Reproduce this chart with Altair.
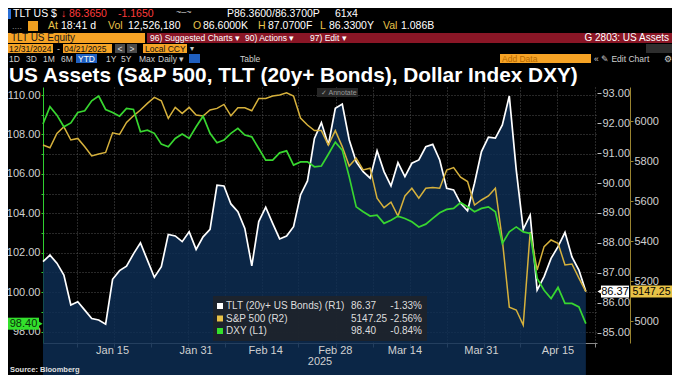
import altair as alt
import pandas as pd

# ---------------- data ----------------
day_idx = list(range(79))  # trading days 12/31/2024 .. 04/21/2025
tlt = [87.37, 87.59, 87.32, 86.92, 85.92, 86.03, 85.75, 85.47, 85.42, 85.28,
       86.78, 87.07, 87.22, 87.63, 88.00, 87.42, 86.85, 87.20, 88.28, 88.23,
       88.04, 88.37, 87.78, 88.20, 88.45, 89.93, 89.90, 89.30, 89.04, 88.48,
       87.23, 88.71, 89.19, 88.65, 88.13, 88.23, 88.54, 89.60, 90.07, 91.49,
       92.02, 91.27, 92.50, 92.64, 91.44, 90.71, 90.38, 90.16, 91.08, 90.38,
       89.90, 90.68, 90.21, 90.66, 90.77, 91.21, 91.29, 90.77, 89.82, 89.77,
       89.32, 89.07, 89.99, 91.05, 91.53, 91.50, 91.94, 92.91, 90.43, 88.45,
       88.93, 86.42, 86.87, 87.48, 87.87, 88.35, 87.53, 87.09, 86.37]
spx = [5880, 5866, 5938, 5971, 5905, 5913, 5871, 5825, 5835, 5843,
       5941, 5933, 5993, 6026, 6055, 6088, 6118, 6101, 6013, 6068,
       6038, 6068, 6030, 6025, 6055, 6063, 6083, 6026, 6066, 6066,
       6051, 6113, 6113, 6125, 6130, 6141, 6125, 6015, 5980, 5952,
       5952, 5880, 5952, 5872, 5775, 5814, 5755, 5764, 5614, 5567,
       5594, 5525, 5625, 5664, 5614, 5664, 5667, 5664, 5755, 5767,
       5719, 5697, 5580, 5605, 5625, 5664, 5405, 5069, 5055, 4980,
       5445, 5255, 5372, 5405, 5389, 5280, 5285, 5214, 5147.25]
dxy = [108.53, 109.41, 108.98, 108.39, 108.59, 109.12, 109.20, 109.71, 109.95, 109.27,
       109.12, 108.93, 109.32, 109.27, 108.14, 108.22, 108.06, 107.51, 107.38, 107.80,
       108.02, 107.80, 108.39, 108.93, 108.06, 107.58, 107.72, 108.06, 108.31, 107.97,
       107.88, 107.29, 106.70, 106.70, 107.07, 107.17, 106.45, 106.61, 106.61, 106.36,
       106.40, 107.00, 107.61, 107.21, 105.85, 104.33, 104.08, 103.86, 103.91, 103.49,
       103.65, 103.86, 103.74, 103.57, 103.31, 103.45, 103.74, 104.03, 104.20, 104.25,
       104.55, 104.33, 104.08, 104.25, 104.33, 104.08, 102.47, 103.06, 103.31, 103.06,
       102.98, 100.70, 100.10, 99.68, 100.24, 99.43, 99.43, 99.25, 98.40]

tick_idx = [10, 22, 32, 42, 52, 63, 74]
tick_lbl = ["Jan 15", "Jan 31", "Feb 14", "Feb 28", "Mar 14", "Mar 31", "Apr 15"]

leg_names = ["TLT (20y+ US Bonds) (R1)", "S&P 500 (R2)", "DXY (L1)"]
leg_pct = ["-1.33%", "-2.56%", "-0.84%"]

# ---------------- styling ----------------
FONT = "Liberation Sans, Arial, sans-serif"
C_TLT = "#ffffff"
C_SPX = "#d6b13c"
C_SPX_TAG = "#e8c247"
C_DXY = "#38d630"
C_DXY_TAG = "#33e02c"
AREA = "#0e2e56"
ORANGE = "#f6a325"
YEL = "#e8c34a"
LBL = "#d0d0d0"

W, H = 554, 256
OX, OY = 43, 87  # page position of the plot area

df = pd.DataFrame({"idx": day_idx, "tlt": tlt, "spx": spx, "dxy": dxy})
last = df.iloc[[-1]].reset_index(drop=True)
ticks_df = pd.DataFrame({"idx": tick_idx, "lbl": tick_lbl})
one = pd.DataFrame({"a": [0]})

grid_x = [4.85, 10.2, 15.5, 20.8, 26.1, 31.4, 36.7, 42.1, 47.4, 52.7, 58.0, 63.3, 68.6, 73.9, 79.3]
x_axis = alt.Axis(values=grid_x, labels=False, grid=True, gridColor="#505050", gridDash=[1, 2],
                  ticks=True, tickColor="#888888", tickSize=4, domainColor="#8a8a8a", title=None)
xscale = alt.Scale(domain=[0, 79.6], nice=False, zero=False)
x_enc = alt.X("idx:Q", scale=xscale, axis=x_axis)

tlt_scale = alt.Scale(domain=[84.65, 93.21], nice=False, zero=False)
spx_scale = alt.Scale(domain=[4890, 6170], nice=False, zero=False)
dxy_scale = alt.Scale(domain=[97.42, 110.41], nice=False, zero=False)

r1_axis = alt.Axis(orient="right", values=list(range(85, 94)), format=".2f", grid=False, domain=False,
                   ticks=True, tickColor="#bbbbbb", tickSize=4, labelColor=LBL, labelFont=FONT,
                   labelFontSize=11, labelPadding=1, title=None)
r2_axis = alt.Axis(orient="right", offset=33, values=list(range(5000, 6001, 200)), format="d", grid=False,
                   domainColor="#9a8430", tickColor="#9a8430", tickSize=3, labelColor=LBL,
                   labelFont=FONT, labelFontSize=11, labelPadding=1, title=None)
l1_axis = alt.Axis(orient="left", values=list(range(98, 111)),
                   labelExpr="datum.value % 2 == 0 ? format(datum.value, '.2f') : ''",
                   grid=True, gridColor="#505050", gridDash=[1, 2], domainColor="#2fcf2f",
                   tickColor="#2fcf2f", tickSize=2, labelColor=LBL, labelFont=FONT,
                   labelFontSize=11, labelPadding=1, title=None)

y_tlt = alt.Y("tlt:Q", scale=tlt_scale, axis=r1_axis)
y_spx = alt.Y("spx:Q", scale=spx_scale, axis=r2_axis)
y_dxy = alt.Y("dxy:Q", scale=dxy_scale, axis=l1_axis)


def T(s, x, y, color="#ffffff", size=10.5, weight="normal", align="left", baseline="middle"):
    return alt.Chart(one).mark_text(text=s, align=align, baseline=baseline, color=color,
                                    fontSize=size, fontWeight=weight, font=FONT).encode(
        x=alt.value(x - OX), y=alt.value(y - OY))


def R(x1, y1, x2, y2, color, opacity=1.0):
    return alt.Chart(one).mark_rect(color=color, opacity=opacity).encode(
        x=alt.value(x1 - OX), x2=alt.value(x2 - OX), y=alt.value(y1 - OY), y2=alt.value(y2 - OY))


# ---------------- series ----------------
tlt_area = alt.Chart(df).mark_area(color=AREA, opacity=0.82).encode(x=x_enc, y=y_tlt, y2=alt.value(H))
tlt_line = alt.Chart(df).mark_line(color=C_TLT, strokeWidth=1.7).encode(x=x_enc, y=y_tlt)
tlt_arrow = alt.Chart(last).mark_point(shape="triangle-left", filled=True, size=35, color=C_TLT,
                                       opacity=1).encode(x=alt.value(W + 3), y=y_tlt)
tlt_box = alt.Chart(last).mark_rect(color=C_TLT, yOffset=-6, y2Offset=6).encode(
    x=alt.value(W + 4), x2=alt.value(W + 32), y=y_tlt, y2="tlt:Q")
tlt_txt = alt.Chart(last).mark_text(color="#000000", fontSize=11, font=FONT, baseline="middle").encode(
    x=alt.value(W + 18), y=y_tlt, text=alt.Text("tlt:Q", format=".2f"))
tlt_layer = alt.layer(tlt_area, tlt_line, tlt_arrow, tlt_box, tlt_txt)

spx_line = alt.Chart(df).mark_line(color=C_SPX, strokeWidth=1.5).encode(x=x_enc, y=y_spx)
spx_box = alt.Chart(last).mark_rect(color=C_SPX_TAG, yOffset=-6, y2Offset=6).encode(
    x=alt.value(W + 34), x2=alt.value(W + 75), y=y_spx, y2="spx:Q")
spx_txt = alt.Chart(last).mark_text(color="#000000", fontSize=10.5, font=FONT, baseline="middle").encode(
    x=alt.value(W + 54.5), y=y_spx, text=alt.Text("spx:Q", format=".2f"))
spx_layer = alt.layer(spx_line, spx_box, spx_txt)

dxy_line = alt.Chart(df).mark_line(color=C_DXY, strokeWidth=1.7).encode(x=x_enc, y=y_dxy)
dxy_box = alt.Chart(last).mark_rect(color=C_DXY_TAG, yOffset=-6, y2Offset=6).encode(
    x=alt.value(-35), x2=alt.value(-4), y=y_dxy, y2="dxy:Q")
dxy_arrow = alt.Chart(last).mark_point(shape="triangle-right", filled=True, size=35, color=C_DXY_TAG,
                                       opacity=1).encode(x=alt.value(-3), y=y_dxy)
dxy_txt = alt.Chart(last).mark_text(color="#0a300a", fontSize=11, font=FONT, baseline="middle").encode(
    x=alt.value(-19.5), y=y_dxy, text=alt.Text("dxy:Q", format=".2f"))
dxy_layer = alt.layer(dxy_line, dxy_box, dxy_arrow, dxy_txt)

date_lbls = alt.Chart(ticks_df).mark_text(color=LBL, fontSize=11, font=FONT, baseline="middle").encode(
    x=x_enc, y=alt.value(351 - OY), text="lbl:N")

# ---------------- Bloomberg chrome ----------------
deco = []
# row 1
deco += [R(8, 9, 11, 19, "#2a6fd6"), T("TLT US", 13, 14, size=10.5), T("$", 51, 14, size=10.5),
         T("\u2193", 61, 14, "#ff3b3b", 10.5), T("86.3650", 69, 14, "#ff3b3b", 10.5),
         T("-1.1650", 118, 14, "#ff3b3b", 10.5), T("~\u2013~", 176, 12, "#cccccc", 9),
         T("P86.3600/86.3700P", 227, 14, size=10.5), T("61x4", 335, 14, size=10.5)]
# row 2
deco += [T("....", 12, 26, "#888888", 9), R(28, 21, 38, 31, "#f0a020"),
         T("At", 48, 26, YEL), T("18:41 d", 61, 26),
         T("Vol", 108, 26, YEL), T("12,526,180", 128, 26),
         T("O", 193, 26, YEL), T("86.6000K", 203, 26),
         T("H", 258, 26, YEL), T("87.0700F", 268, 26),
         T("L", 320, 26, YEL), T("86.3300Y", 329, 26),
         T("Val", 383, 26, YEL), T("1.086B", 401, 26)]
# red bar
deco += [R(8, 33, 145, 43, ORANGE), T("TLT US Equity", 11, 38, "#1a1a1a", 10),
         R(147, 33, 672, 43, "#8a1626"),
         T("96) Suggested Charts \u25be", 150, 38, "#ffffff", 8.5),
         T("90) Actions \u25be", 245, 38, "#ffffff", 8.5),
         T("97) Edit \u25be", 310, 38, "#ffffff", 8.5),
         T("G 2803: US Assets", 669, 38, "#ffffff", 10, align="right")]
# row 4
deco += [R(8, 44, 53, 53, ORANGE), T("12/31/2024", 9, 48.5, "#111111", 8.5),
         T("-", 57, 48.5, "#cccccc", 9),
         R(63, 44, 112, 53, ORANGE), T("04/21/2025", 64, 48.5, "#111111", 8.5),
         R(115, 44, 125, 53, "#4a4a4a"), T("<", 120, 48.5, "#dddddd", 8.5, align="center"),
         R(127, 44, 137, 53, "#4a4a4a"), T(">", 132, 48.5, "#dddddd", 8.5, align="center"),
         R(143, 44, 187, 53, ORANGE), T("Local CCY", 145, 48.5, "#111111", 8.5),
         T("\u25be", 190, 48.5, "#cccccc", 8), R(646, 44, 672, 53, "#2e2e2e")]
# row 5
for s, xx in [("1D", 9), ("3D", 26), ("1M", 43), ("6M", 61), ("1Y", 106), ("5Y", 121),
              ("Max", 139), ("Daily \u25be", 158), ("Table", 240)]:
    deco.append(T(s, xx, 58.5, "#cfcfcf", 8.5))
deco += [R(76, 54, 97, 63, "#1f5fbf"), T("YTD", 86.5, 58.5, "#ffffff", 8.5, align="center"),
         R(189, 54, 200, 63, "#1f5fbf"),
         R(500, 54, 591, 63, ORANGE), T("Add Data", 502, 58.5, "#b86a00", 8.5),
         T("\u00ab \u270e Edit Chart", 594, 58.5, "#cfcfcf", 8.5), T("\u2699", 664, 58.5, "#cfcfcf", 8.5)]
# title
deco.append(T("US Assets (S&P 500, TLT (20y+ Bonds), Dollar Index DXY)", 9, 82, "#ffffff", 20.8,
              "bold", baseline="alphabetic"))
# annotate button
deco += [R(317, 88, 358, 97, "#262626"), T("\u2713 Annotate", 321, 92.5, "#9a9a9a", 7)]
# bottom texts
deco += [T("2025", 320, 362, LBL, 11, align="center"),
         T("Source: Bloomberg", 10, 370, "#e0e0e0", 7.5, "bold")]

# legend box
last_vals = [f"{tlt[-1]:.2f}", f"{spx[-1]:.2f}", f"{dxy[-1]:.2f}"]
leg_colors = [C_TLT, C_SPX_TAG, C_DXY_TAG]
legend = [R(213, 296, 427, 341, "#1e232b", 0.93)]
for i in range(3):
    yy = 306 + i * 12.5
    legend += [R(217, yy - 3, 223, yy + 3, leg_colors[i]),
               T(leg_names[i], 226, yy, "#dddddd", 10),
               T(last_vals[i], 351, yy, "#dddddd", 10),
               T(leg_pct[i], 422, yy, "#dddddd", 10, align="right")]

chart = alt.layer(
    tlt_layer, spx_layer, dxy_layer, date_lbls, *legend, *deco
).resolve_scale(
    y="independent"
).properties(
    width=W, height=H,
    autosize=alt.AutoSizeParams(type="none"),
    padding={"left": 35, "top": 79, "right": 75, "bottom": 32},
    background="#000000",
).configure_view(stroke="transparent")

chart.save("out.html", embed_options={"renderer": "svg", "actions": False})
